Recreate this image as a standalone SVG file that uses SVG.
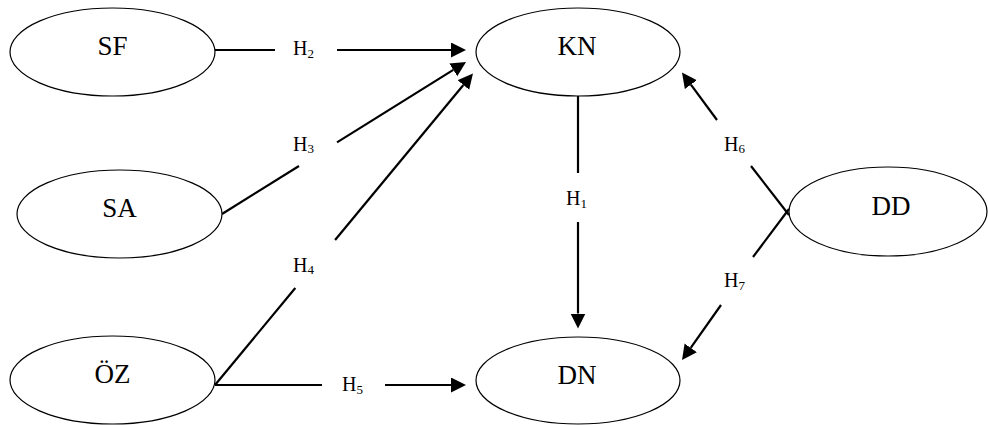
<svg xmlns="http://www.w3.org/2000/svg" width="988" height="425" viewBox="0 0 988 425">
<defs>
<style>
.node{fill:#fff;stroke:#000;stroke-width:1.2}
.lbl{font-family:"Liberation Serif","Times New Roman",serif;font-size:27px;fill:#000;text-anchor:middle}
.h{font-family:"Liberation Serif","Times New Roman",serif;font-size:20px;fill:#000}
.sub{font-size:13px}
.edge{stroke:#000;stroke-width:2.2;fill:none}
</style>
<marker id="arr" markerUnits="userSpaceOnUse" markerWidth="16" markerHeight="16" refX="0" refY="7.5" orient="auto">
<path d="M0,0 L15,7.5 L0,15 z" fill="#000"/>
</marker>
</defs>
<rect width="988" height="425" fill="#fff"/>
<g id="connectors">
<line class="edge" x1="215" y1="50" x2="275" y2="50"/>
<line class="edge" x1="337" y1="50" x2="451" y2="50" marker-end="url(#arr)"/>
<line class="edge" x1="222" y1="214" x2="299" y2="166"/>
<line class="edge" x1="337" y1="142.4" x2="453.3" y2="69.9" marker-end="url(#arr)"/>
<line class="edge" x1="215" y1="385" x2="295.3" y2="288"/>
<line class="edge" x1="335.1" y1="240" x2="463.4" y2="85" marker-end="url(#arr)"/>
<line class="edge" x1="215" y1="385" x2="322" y2="385"/>
<line class="edge" x1="385" y1="385" x2="451" y2="385" marker-end="url(#arr)"/>
<line class="edge" x1="578" y1="96" x2="578" y2="173"/>
<line class="edge" x1="578" y1="222" x2="578" y2="313.5" marker-end="url(#arr)"/>
<line class="edge" x1="789" y1="215" x2="751" y2="166"/>
<line class="edge" x1="717" y1="120" x2="690.9" y2="84.6" marker-end="url(#arr)"/>
<line class="edge" x1="789" y1="209" x2="753" y2="257"/>
<line class="edge" x1="721" y1="305" x2="690.7" y2="347.8" marker-end="url(#arr)"/>
<text class="h" x="293" y="55">H<tspan class="sub" dy="2.5">2</tspan></text>
<text class="h" x="293" y="150.7">H<tspan class="sub" dy="2.5">3</tspan></text>
<text class="h" x="293" y="271.7">H<tspan class="sub" dy="2.5">4</tspan></text>
<text class="h" x="342" y="391">H<tspan class="sub" dy="2.5">5</tspan></text>
<text class="h" x="566" y="205">H<tspan class="sub" dy="2.5">1</tspan></text>
<text class="h" x="724" y="150.7">H<tspan class="sub" dy="2.5">6</tspan></text>
<text class="h" x="724" y="287.3">H<tspan class="sub" dy="2.5">7</tspan></text>
</g>
<g id="SF"><ellipse class="node" cx="112.5" cy="52" rx="102.5" ry="44"/><text class="lbl" x="112.5" y="55">SF</text></g>
<g id="SA"><ellipse class="node" cx="119.5" cy="214" rx="102.5" ry="44"/><text class="lbl" x="119.5" y="217">SA</text></g>
<g id="OZ"><ellipse class="node" cx="112.5" cy="380" rx="102.5" ry="44"/><text class="lbl" x="112.5" y="383">ÖZ</text></g>
<g id="KN"><ellipse class="node" cx="578" cy="52" rx="102" ry="44"/><text class="lbl" x="577" y="55">KN</text></g>
<g id="DN"><ellipse class="node" cx="578" cy="380.5" rx="102" ry="43.5"/><text class="lbl" x="577" y="384">DN</text></g>
<g id="DD"><ellipse class="node" cx="888" cy="211.5" rx="99" ry="44.5"/><text class="lbl" x="891" y="215">DD</text></g>
</svg>
